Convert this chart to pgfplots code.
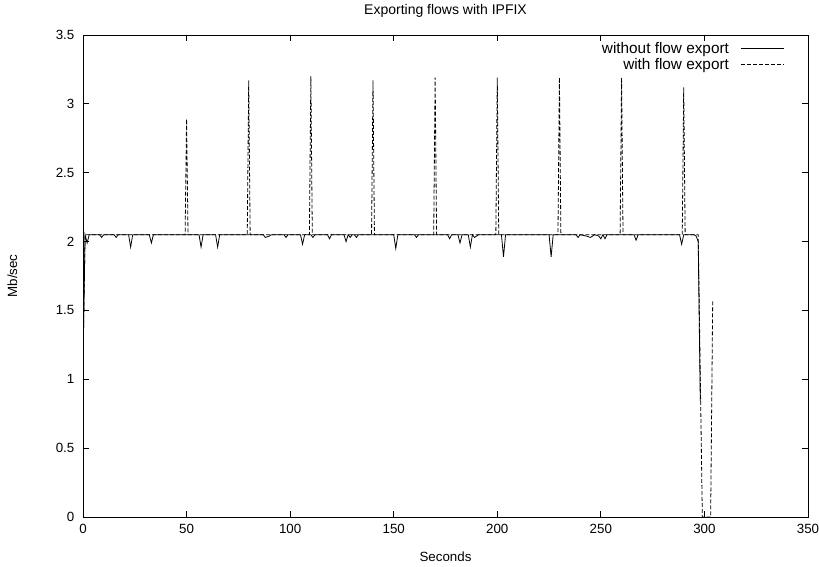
\documentclass[border=0pt]{standalone}
\usepackage{fontspec}
\setmainfont{Liberation Sans}
\usepackage{pgfplots}
\pgfplotsset{compat=1.18}
\begin{document}
\begin{tikzpicture}
\useasboundingbox (0pt,0pt) rectangle (614.25pt,425.25pt);
\begin{axis}[
  at={(62.25pt,37.5pt)}, anchor=south west,
  scale only axis, width=543.75pt, height=361.5pt,
  xmin=0, xmax=350, ymin=0, ymax=3.5,
  xtick={0,50,...,350}, ytick={0,0.5,...,3.5},
  yticklabels={0,0.5,1,1.5,2,2.5,3,3.5},
  tick align=inside, major tick length=4.5pt,
  /pgf/number format/assume math mode=true,
  font=\fontsize{10}{12}\selectfont,
  every tick/.style={black, line width=0.6pt},
  axis line style={line width=0.7pt},
  title={Exporting flows with IPFIX},
  title style={at={(axis description cs:0.5,1)}, anchor=center, yshift=12pt, font=\fontsize{10.5}{12}\selectfont},
  xlabel={Seconds},
  xlabel style={at={(axis description cs:0.5,0)}, anchor=center, yshift=-30pt},
  ylabel={Mb/sec},
  ylabel style={at={(axis description cs:0,0.5)}, anchor=center, yshift=53pt},
  xticklabel style={yshift=-1.5pt},
  yticklabel style={xshift=-3pt},
  legend style={draw=none, fill=none, at={(rel axis cs:1,1)}, anchor=north east, xshift=-14.5pt, yshift=-1pt, row sep=-1.8pt, font=\fontsize{11.5}{13}\selectfont},
  legend cell align=right,
  legend plot pos=right,
  legend image code/.code={\path (0pt,0pt); \draw[#1] (7pt,0pt) -- (39pt,0pt);},
]
\addplot[black, line width=0.6pt] coordinates {
(0,1.1) (1,2.05) (2,1.99) (3,2.05) (8,2.05) (9,2.03) (10,2.05) (15,2.05) (16,2.03) (17,2.05)
(22,2.05) (23,1.96) (24,2.05) (32,2.05) (33,1.99) (34,2.05) (56,2.05) (57,1.96) (58,2.05)
(64,2.05) (65,1.96) (66,2.05) (87,2.05) (88,2.03) (90,2.04) (91,2.05) (97,2.05) (98,2.03) (99,2.05)
(105,2.05) (106,1.98) (107,2.05) (110,2.05) (111,2.03) (112,2.05) (118,2.05) (119,2.02) (120,2.05)
(126,2.05) (127,2.0) (128,2.05) (129,2.03) (130,2.05) (131,2.05) (132,2.03) (133,2.05)
(150,2.05) (151,1.95) (152,2.05) (160,2.05) (161,2.03) (162,2.05) (176,2.05) (177,2.02) (178,2.05)
(181,2.05) (182,1.99) (183,2.05) (186,2.05) (187,1.96) (188,2.05) (189,2.03) (190,2.04) (191,2.05)
(202,2.05) (203,1.89) (204,2.05) (225,2.05) (226,1.89) (227,2.05) (238,2.05) (239,2.03) (240,2.05)
(243,2.04) (245,2.03) (247,2.05) (249,2.04) (250,2.02) (251,2.05) (252,2.02) (253,2.05)
(266,2.05) (267,2.01) (268,2.05) (288,2.05) (289,1.98) (290,2.05) (295,2.05) (296,2.04) (297,2.0) (298,0.84)
};
\addlegendentry{without flow export}
\addplot[black, line width=0.6pt, dash pattern=on 3pt off 1.5pt] coordinates {
(0,1.1) (1,2.05) (49.3,2.05) (50,2.89) (50.7,2.05) (79.3,2.05) (80,3.17) (80.7,2.05)
(109.3,2.05) (110,3.2) (110.7,2.05) (139.3,2.05) (140,3.17) (140.7,2.05)
(169.3,2.05) (170,3.19) (170.7,2.05) (199.3,2.05) (200,3.19) (200.7,2.05)
(229.3,2.05) (230,3.19) (230.7,2.05) (259.3,2.05) (260,3.19) (260.7,2.05)
(289.3,2.05) (290,3.12) (290.7,2.05) (297,2.05) (299,0) (303,0) (304,1.58)
};
\addlegendentry{with flow export}
\end{axis}
\end{tikzpicture}
\end{document}
